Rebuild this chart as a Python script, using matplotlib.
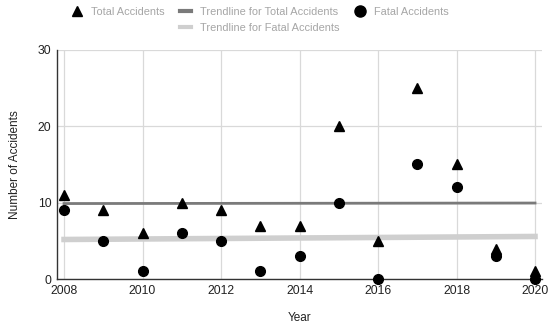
import numpy as np
import matplotlib.pyplot as plt
from matplotlib.lines import Line2D

years = np.arange(2008, 2021)
total_accidents = [11, 9, 6, 10, 9, 7, 7, 20, 5, 25, 15, 4, 1]
fatal_accidents = [9, 5, 1, 6, 5, 1, 3, 10, 0, 15, 12, 3, 0]

plt.rcParams['font.family'] = 'Liberation Sans'
plt.rcParams['font.size'] = 8.5

fig = plt.figure(figsize=(5.5, 3.28), dpi=100)
ax = fig.add_axes([0.1036, 0.149, 0.882, 0.699])

# linear trendlines
pt = np.polyfit(years, total_accidents, 1)
pf = np.polyfit(years, fatal_accidents, 1)
xt = np.array([years.min(), years.max()])

ax.plot(xt, np.polyval(pt, xt), color='#7a7a7a', lw=2, zorder=2)
ax.plot(xt, np.polyval(pf, xt), color='#cfcfcf', lw=4, zorder=2)
ax.plot(years, total_accidents, '^', color='black', ms=6.5, ls='none', zorder=3, clip_on=False)
ax.plot(years, fatal_accidents, 'o', color='black', ms=7, ls='none', zorder=3, clip_on=False)

ax.set_xlim(2007.82, 2020.18)
ax.set_ylim(0, 30)
ax.set_xticks(np.arange(2008, 2021, 2))
ax.set_yticks([0, 10, 20, 30])
ax.grid(True, color='#d9d9d9', lw=0.9)
ax.set_axisbelow(True)
for s in ['top', 'right']:
    ax.spines[s].set_visible(False)
for s in ['left', 'bottom']:
    ax.spines[s].set_color('#333333')
    ax.spines[s].set_linewidth(1.0)
ax.tick_params(length=0, pad=4, colors='#222222', labelsize=8.8)
ax.set_xlabel('Year', labelpad=11, color='#222222')
ax.set_ylabel('Number of Accidents', labelpad=12, color='#222222')

blank = Line2D([], [], alpha=0)
handles = [
    Line2D([], [], marker='^', color='black', ls='none', ms=6.5), blank,
    Line2D([], [], color='#7a7a7a', lw=3), Line2D([], [], color='#cfcfcf', lw=3),
    Line2D([], [], marker='o', color='black', ls='none', ms=8), blank,
]
labels = ['Total Accidents', '', 'Trendline for Total Accidents',
          'Trendline for Fatal Accidents', 'Fatal Accidents', '']
fig.legend(handles, labels, ncol=3, loc='upper center', bbox_to_anchor=(0.473, 1.01),
           frameon=False, labelcolor='#a6a6a6', handlelength=1.0, handletextpad=0.8,
           columnspacing=1.4, labelspacing=0.55, fontsize=7.9)

fig.savefig('out.png', dpi=100)
